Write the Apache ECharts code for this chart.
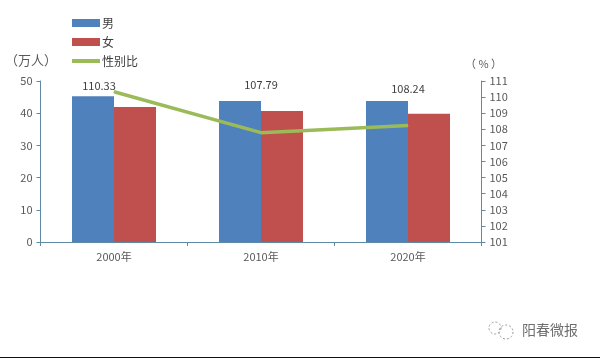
<!DOCTYPE html>
<html><head><meta charset="utf-8">
<style>html,body{margin:0;padding:0;background:#fff}#c{width:600px;height:358px}</style>
<script src="https://cdn.jsdelivr.net/npm/echarts@6/dist/echarts.min.js"></script>
</head><body><div id="c"></div>
<script>
const categories = ['2000年','2010年','2020年'];
const male = [45.3, 43.8, 43.8];
const female = [41.9, 40.7, 39.8];
const sexRatio = [110.33, 107.79, 108.24];
const leftTicks = {min:0, max:50, interval:10};
const rightTicks = {min:101, max:111, interval:1};
const labelOffsets = [[-15,5],[0,-37],[0,-26]];
const FONT = '"Noto Sans CJK SC","Noto Sans",sans-serif';
const TXT = '#595959', AX = '#5f8aa3';
const chart = echarts.init(document.getElementById('c'), null, {renderer:'canvas'});
chart.setOption({
  animation:false,
  backgroundColor:'#fff',
  textStyle:{fontFamily:FONT,color:TXT},
  grid:{left:40.5,right:118.5,top:81,bottom:116,containLabel:false},
  legend:{
    left:67,top:12,orient:'vertical',itemWidth:28,itemHeight:8,itemGap:7,
    textStyle:{fontFamily:FONT,fontSize:12,color:'#404040',padding:[0,0,0,-3]},
    data:[{name:'男',icon:'rect'},{name:'女',icon:'rect'},{name:'性别比',icon:'path://M0 0H28V4H0Z'}]
  },
  xAxis:{type:'category',data:categories,
    axisLine:{lineStyle:{color:AX,width:1}},
    axisTick:{show:true,length:4,lineStyle:{color:AX}},
    axisLabel:{color:TXT,fontSize:11,margin:9,fontFamily:FONT}},
  yAxis:[
    {type:'value',...leftTicks,splitLine:{show:false},
      axisLine:{show:true,lineStyle:{color:AX}},
      axisTick:{show:true,length:4,lineStyle:{color:AX}},
      axisLabel:{color:TXT,fontSize:11,margin:8,fontFamily:FONT},
      name:'（万人）',nameGap:14,nameTextStyle:{color:TXT,fontSize:13,fontFamily:FONT,align:'center',padding:[0,0,0,-19]}},
    {type:'value',...rightTicks,position:'right',splitLine:{show:false},
      axisLine:{show:true,lineStyle:{color:AX}},
      axisTick:{show:true,length:4,lineStyle:{color:AX}},
      axisLabel:{color:TXT,fontSize:11,margin:8,fontFamily:FONT},
      name:'（ % ）',nameGap:12,nameTextStyle:{color:TXT,fontSize:11,fontFamily:FONT,align:'center',padding:[0,0,0,4]}}
  ],
  series:[
    {name:'男',type:'bar',data:male,barWidth:42,barGap:0,itemStyle:{color:'#4f81bd'}},
    {name:'女',type:'bar',data:female,barWidth:42,barGap:0,itemStyle:{color:'#c0504d'}},
    {name:'性别比',type:'line',yAxisIndex:1,symbol:'circle',symbolSize:1,showSymbol:true,
      lineStyle:{color:'#9bbb59',width:3.5},itemStyle:{color:'#9bbb59'},
      data:sexRatio.map((v,i)=>({value:v,
        label:{show:true,position:'top',offset:labelOffsets[i],color:'#404040',fontSize:11,fontFamily:FONT,formatter:p=>p.value.toFixed(2)}})),z:5}
  ],
  graphic:[
    {type:'text',left:522,top:323,style:{text:'阳春微报',fontFamily:FONT,fontSize:14,fill:'#6e6e6e'}},
    {type:'circle',shape:{cx:506,cy:332,r:7},style:{fill:'none',stroke:'#999',lineDash:[2,2],lineWidth:1}},
    {type:'circle',shape:{cx:495,cy:328,r:6},style:{fill:'none',stroke:'#999',lineDash:[2,2],lineWidth:1}},
    {type:'rect',shape:{x:0,y:357,width:600,height:1},style:{fill:'#111'}}
  ]
});
</script></body></html>
